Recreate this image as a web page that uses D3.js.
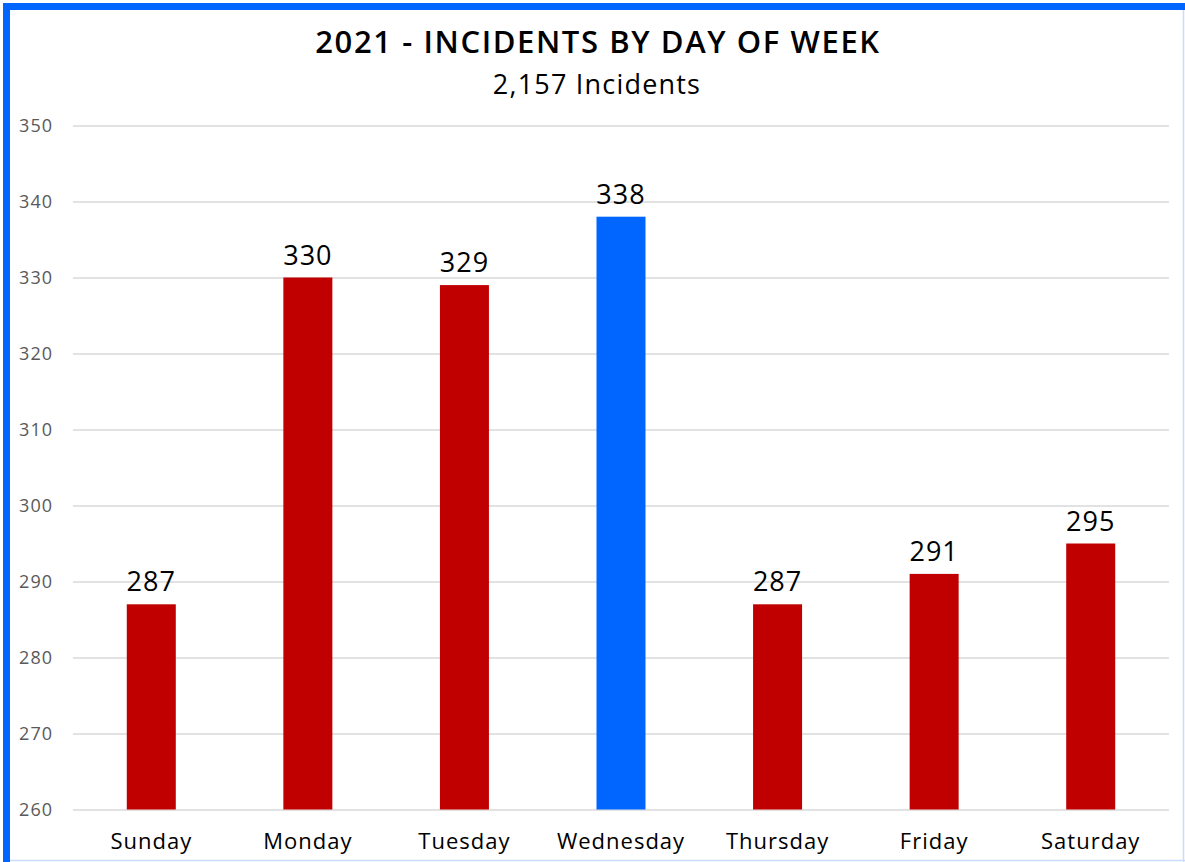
<!DOCTYPE html>
<html><head><meta charset="utf-8">
<script src="https://cdn.jsdelivr.net/npm/d3@7"></script>
<style>html,body{margin:0;padding:0;background:#fff;overflow:hidden}</style>
</head><body>
<svg id="c" width="1185" height="862"></svg>
<script>
const days = ["Sunday","Monday","Tuesday","Wednesday","Thursday","Friday","Saturday"];
const incidents = [287,330,329,338,287,291,295];
const highlight = ["Wednesday"];
const yTicks = [260,270,280,290,300,310,320,330,340,350];
const titleText = "2021 - INCIDENTS BY DAY OF WEEK";
const subtitleText = "2,157 Incidents";

const font = "'Open Sans', Lato, sans-serif";
const svg = d3.select("#c");
const W = 1185, H = 862;
svg.append("rect").attr("width",W).attr("height",H).attr("fill","#fff");

const m = {left:73, right:W-1169, top:125.5, bottom:H-809.5};
const x = d3.scaleBand().domain(days).range([m.left, W-m.right]).paddingInner(0.687).paddingOuter(0.3435);
const y = d3.scaleLinear().domain([260,350]).range([H-m.bottom, m.top]);

// gridlines
const yAxis = d3.axisLeft(y).tickValues(yTicks).tickSize(-(W-m.left-m.right)).tickPadding(20).tickFormat(d3.format("d"));
const gy = svg.append("g").attr("transform",`translate(${m.left},0)`).call(yAxis);
gy.select(".domain").remove();
gy.selectAll(".tick line").attr("stroke","#d9d9d9").attr("stroke-width",1.3);
gy.selectAll(".tick text").attr("fill","#595959").style("font-family",font).style("font-size","18px").style("letter-spacing","1px").attr("text-anchor","end");

// bars
svg.append("g").selectAll("rect").data(days).join("rect")
  .attr("x",d=>x(d)).attr("width",x.bandwidth())
  .attr("y",(d,i)=>y(incidents[i])).attr("height",(d,i)=>y(260)-y(incidents[i]))
  .attr("fill",d=>highlight.includes(d)?"#0066FF":"#C00000");

// labels
svg.append("g").selectAll("text").data(days).join("text")
  .attr("x",d=>x(d)+x.bandwidth()/2).attr("y",(d,i)=>y(incidents[i])-13)
  .attr("text-anchor","middle").style("font-family",font).style("font-size","27px").style("letter-spacing","1px").attr("fill","#000")
  .text((d,i)=>incidents[i]);

// x axis
const xAxis = d3.axisBottom(x).tickSize(0).tickPadding(0);
const gx = svg.append("g").attr("transform",`translate(0,${H-m.bottom})`).call(xAxis);
gx.select(".domain").remove();
gx.selectAll(".tick text").attr("dy",null).attr("y",39).attr("fill","#000").style("font-family",font).style("font-size","22px").style("letter-spacing","1px");

// title
svg.append("text").attr("x",598).attr("y",53).attr("text-anchor","middle")
  .style("font-family",font).style("font-size","31px").style("font-weight","600").style("letter-spacing","1.6px").attr("fill","#000").text(titleText);
svg.append("text").attr("x",597).attr("y",94).attr("text-anchor","middle")
  .style("font-family",font).style("font-size","27px").style("letter-spacing","1.2px").attr("fill","#000").text(subtitleText);

// border
svg.append("rect").attr("x",3).attr("y",3).attr("width",W-3).attr("height",7).attr("fill","#0066FF");
svg.append("rect").attr("x",3).attr("y",3).attr("width",7).attr("height",H-3).attr("fill","#0066FF");
svg.append("line").attr("x1",1183.5).attr("x2",1183.5).attr("y1",10).attr("y2",H).attr("stroke","#c9dcff").attr("stroke-width",1.5);
svg.append("line").attr("x1",10).attr("x2",W).attr("y1",860.5).attr("y2",860.5).attr("stroke","#c9dcff").attr("stroke-width",1.5);
</script>
</body></html>
